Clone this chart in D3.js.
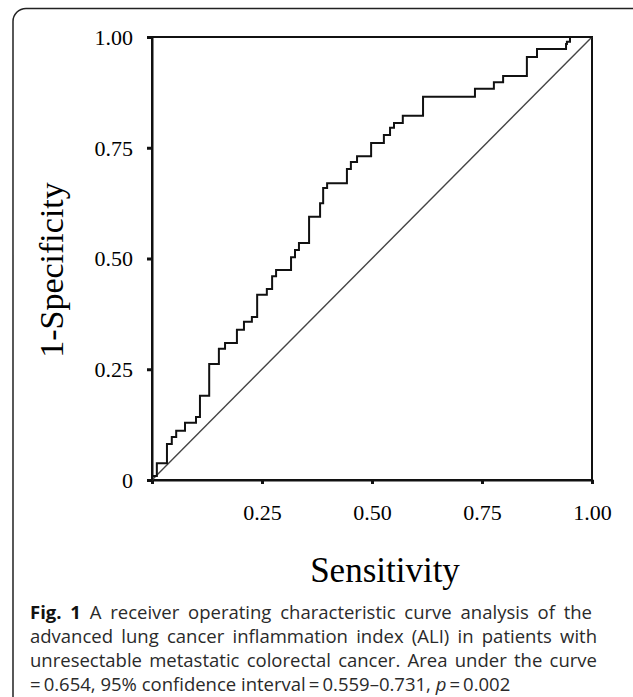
<!DOCTYPE html>
<html>
<head>
<meta charset="utf-8">
<title>ROC ALI</title>
<script src="https://d3js.org/d3.v7.min.js"></script>
<style>
  body { margin: 0; background: #fff; }
  .tick text { font-family: "Liberation Serif", "Times New Roman", serif; font-size: 22px; fill: #000; }
  .cap { font-family: "Open Sans", "Noto Sans", sans-serif; font-size: 18.5px; fill: #2a2a2a; }
</style>
</head>
<body>
<div id="container"></div>
<script>
// ROC curve corners
var sens = [0, 0, 0.011, 0.034, 0.045, 0.055, 0.075, 0.100, 0.109, 0.130, 0.152, 0.166,
  0.193, 0.209, 0.227, 0.239, 0.261, 0.273, 0.282, 0.316, 0.325, 0.334, 0.357, 0.382,
  0.389, 0.398, 0.443, 0.452, 0.466, 0.498, 0.527, 0.541, 0.550, 0.570, 0.616, 0.734,
  0.777, 0.798, 0.852, 0.875, 0.941, 0.943, 0.950, 1.0];
var oneMinusSpec = [0, 0.009, 0.038, 0.081, 0.097, 0.111, 0.129, 0.142, 0.190, 0.262, 0.296, 0.309,
  0.339, 0.357, 0.368, 0.418, 0.431, 0.460, 0.474, 0.503, 0.519, 0.535, 0.594, 0.625,
  0.659, 0.670, 0.702, 0.718, 0.731, 0.761, 0.779, 0.795, 0.806, 0.822, 0.865, 0.883,
  0.898, 0.912, 0.955, 0.973, 0.984, 0.989, 1.0, 1.0];
var xTicks = [0, 0.25, 0.5, 0.75, 1];
var yTicks = [0, 0.25, 0.5, 0.75, 1];
var xTitle = "Sensitivity";
var yTitle = "1-Specificity";

var width = 633, height = 697;

var svg = d3.select("#container").append("svg")
  .attr("width", width).attr("height", height);

// figure frame with rounded corner
svg.append("rect")
  .attr("x", 13).attr("y", 8.5)
  .attr("width", 640).attr("height", 720)
  .attr("rx", 13)
  .attr("fill", "none").attr("stroke", "#222").attr("stroke-width", 1.5);

var x = d3.scaleLinear().domain([0, 1]).range([152, 592]);
var y = d3.scaleLinear().domain([0, 1]).range([480, 37]);

// plot box (top and right)
svg.append("rect")
  .attr("x", x(0)).attr("y", y(1))
  .attr("width", x(1) - x(0)).attr("height", y(0) - y(1))
  .attr("fill", "none").attr("stroke", "#111").attr("stroke-width", 2);

var yAxis = svg.append("g")
  .attr("transform", "translate(" + x(0) + ",0)")
  .call(d3.axisLeft(y).tickValues(yTicks).tickSize(5).tickPadding(14)
    .tickFormat(function(d) { return d === 0 ? "0" : d3.format(".2f")(d); }));

var xAxis = svg.append("g")
  .attr("transform", "translate(0," + y(0) + ")")
  .call(d3.axisBottom(x).tickValues(xTicks).tickSize(4).tickPadding(20)
    .tickFormat(function(d) { return d === 0 ? "" : d3.format(".2f")(d); }));

[xAxis, yAxis].forEach(function(a) {
  a.select(".domain").attr("stroke", "#111").attr("stroke-width", 2);
  a.selectAll(".tick line").attr("stroke", "#111").attr("stroke-width", 3);
});
yAxis.selectAll(".tick text").attr("dy", "0.34em");

// reference diagonal
svg.append("line")
  .attr("x1", x(0)).attr("y1", y(0))
  .attr("x2", x(1)).attr("y2", y(1))
  .attr("stroke", "#444").attr("stroke-width", 1.4);

// ROC step curve
var pts = sens.map(function(s, i) { return [s, oneMinusSpec[i]]; });
var line = d3.line()
  .x(function(d) { return x(d[0]); })
  .y(function(d) { return y(d[1]); })
  .curve(d3.curveStepAfter);

svg.append("path")
  .datum(pts)
  .attr("d", line)
  .attr("fill", "none")
  .attr("stroke", "#111")
  .attr("stroke-width", 2);

// axis titles
svg.append("text")
  .attr("x", 385).attr("y", 582)
  .attr("text-anchor", "middle")
  .style("font-family", "'Liberation Serif', 'Times New Roman', serif")
  .style("font-size", "35px")
  .text(xTitle);

svg.append("text")
  .attr("transform", "translate(63,270) rotate(-90)")
  .attr("text-anchor", "middle")
  .style("font-family", "'Liberation Serif', 'Times New Roman', serif")
  .style("font-size", "34px")
  .text(yTitle);

// caption, justified lines stretched by word spacing
var cap = svg.append("g").attr("class", "cap");
function justify(t, w) {
  var natural = t.node().getComputedTextLength();
  var n = (t.text().match(/ /g) || []).length;
  if (n > 0 && natural < w) t.style("word-spacing", ((w - natural) / n) + "px");
}

var l1 = cap.append("text").attr("x", 30).attr("y", 619);
l1.append("tspan").style("font-weight", "bold").style("fill", "#111").text("Fig. 1");
l1.append("tspan").text(" A receiver operating characteristic curve analysis of the");
justify(l1, 562);

var l2 = cap.append("text").attr("x", 30).attr("y", 643)
  .text("advanced lung cancer inflammation index (ALI) in patients with");
justify(l2, 567);

var l3 = cap.append("text").attr("x", 30).attr("y", 667)
  .text("unresectable metastatic colorectal cancer. Area under the curve");
justify(l3, 567);

var l4 = cap.append("text").attr("x", 30).attr("y", 691);
l4.append("tspan").text("=\u20090.654, 95% confidence interval\u2009=\u20090.559\u20130.731, ");
l4.append("tspan").style("font-style", "italic").text("p");
l4.append("tspan").text("\u2009=\u20090.002");
</script>
</body>
</html>
